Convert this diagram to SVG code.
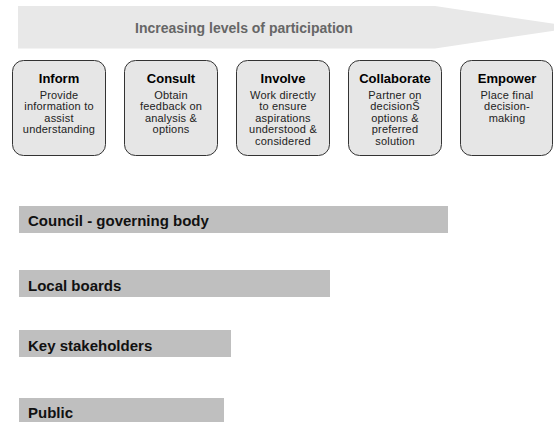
<svg xmlns="http://www.w3.org/2000/svg" width="554" height="422" viewBox="0 0 554 422">
<style>
.box{fill:#e6e6e6;stroke:#333;stroke-width:1}
.t{font-family:"Liberation Sans",Arial,sans-serif;font-size:13px;font-weight:bold;fill:#000;text-anchor:middle}
.d{font-family:"Liberation Sans",Arial,sans-serif;font-size:11px;letter-spacing:0.2px;fill:#222;text-anchor:middle}
.bar{fill:#bfbfbf}
.bt{font-family:"Liberation Sans",Arial,sans-serif;font-size:15px;font-weight:bold;fill:#111}
</style>
<g id="arrow">
<polygon points="18,6 435,6 577,27.3 435,48.5 18,48.5" fill="#e8e8e8"/>
<text x="244" y="32.5" font-family="Liberation Sans,Arial,sans-serif" font-size="14px" font-weight="bold" fill="#666" text-anchor="middle">Increasing levels of participation</text>
</g>
<g id="inform">
<rect class="box" x="12.5" y="60.5" width="93" height="95" rx="11"/>
<text class="t" x="59" y="83">Inform</text>
<text class="d" x="59" y="98.5">Provide</text>
<text class="d" x="59" y="110">information to</text>
<text class="d" x="59" y="121.5">assist</text>
<text class="d" x="59" y="133">understanding</text>
</g>
<g id="consult">
<rect class="box" x="124.5" y="60.5" width="93" height="95" rx="11"/>
<text class="t" x="171" y="83">Consult</text>
<text class="d" x="171" y="98.5">Obtain</text>
<text class="d" x="171" y="110">feedback on</text>
<text class="d" x="171" y="121.5">analysis &amp;</text>
<text class="d" x="171" y="133">options</text>
</g>
<g id="involve">
<rect class="box" x="236.5" y="60.5" width="93" height="95" rx="11"/>
<text class="t" x="283" y="83">Involve</text>
<text class="d" x="283" y="98.5">Work directly</text>
<text class="d" x="283" y="110">to ensure</text>
<text class="d" x="283" y="121.5">aspirations</text>
<text class="d" x="283" y="133">understood &amp;</text>
<text class="d" x="283" y="144.5">considered</text>
</g>
<g id="collaborate">
<rect class="box" x="348.5" y="60.5" width="93" height="95" rx="11"/>
<text class="t" x="395" y="83">Collaborate</text>
<text class="d" x="395" y="98.5">Partner on</text>
<text class="d" x="395" y="110">decisionŠ</text>
<text class="d" x="395" y="121.5">options &amp;</text>
<text class="d" x="395" y="133">preferred</text>
<text class="d" x="395" y="144.5">solution</text>
</g>
<g id="empower">
<rect class="box" x="460.5" y="60.5" width="92" height="95" rx="11"/>
<text class="t" x="507" y="83">Empower</text>
<text class="d" x="507" y="98.5">Place final</text>
<text class="d" x="507" y="110">decision-</text>
<text class="d" x="507" y="121.5">making</text>
</g>
<g id="connectors"></g>
<g id="council">
<rect class="bar" x="19" y="206" width="429" height="27"/>
<text class="bt" x="28" y="226">Council - governing body</text>
</g>
<g id="local-boards">
<rect class="bar" x="19" y="270" width="311" height="27"/>
<text class="bt" x="28" y="291">Local boards</text>
</g>
<g id="key-stakeholders">
<rect class="bar" x="19" y="330" width="212" height="27"/>
<text class="bt" x="28" y="351">Key stakeholders</text>
</g>
<g id="public">
<rect class="bar" x="19" y="398" width="205" height="24"/>
<text class="bt" x="28" y="417.5">Public</text>
</g>
</svg>
